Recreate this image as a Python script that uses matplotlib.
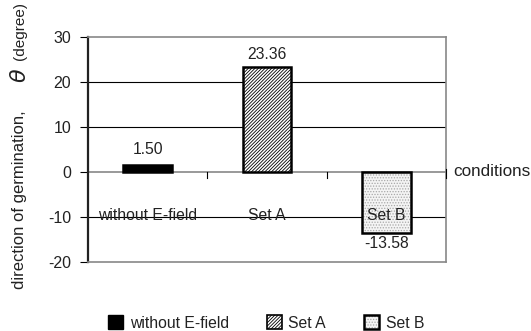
import matplotlib.pyplot as plt
import matplotlib.patches as mpatches

plt.rcParams['font.family'] = ['Liberation Sans', 'DejaVu Sans']
plt.rcParams['hatch.linewidth'] = 0.6

# данные
categories = ["without E-field", "Set A", "Set B"]
values = [1.50, 23.36, -13.58]
value_labels = ["1.50", "23.36", "-13.58"]
yticks = [-20, -10, 0, 10, 20, 30]

TXT = "#222222"
HATCH_A = "//////////"
HATCH_B = "......"
DOTS_B = "#a8a8a8"

fig = plt.figure(figsize=(5.31, 3.31), dpi=100)
ax = fig.add_axes([88 / 531, 1 - 262 / 331, (446 - 88) / 531, (262 - 37) / 331])

x = [0, 1, 2]
w = 0.41
# без поля — сплошной чёрный
ax.bar(x[0], values[0], width=w, color="black", edgecolor="black",
       linewidth=1.8, zorder=3)
# Set A — густая штриховка
ax.bar(x[1], values[1], width=w, color="white", edgecolor="black",
       linewidth=1.8, hatch=HATCH_A, zorder=3)
# Set B — светлые точки, потом рамка
ax.bar(x[2], values[2], width=w, color="#f4f4f4", edgecolor=DOTS_B,
       linewidth=0, hatch=HATCH_B, zorder=3)
ax.bar(x[2], values[2], width=w, color="none", edgecolor="black",
       linewidth=1.8, zorder=3)

ax.set_xlim(-0.5, 2.5)
ax.set_ylim(-20, 30)
ax.set_yticks(yticks)
ax.set_yticklabels([str(t) for t in yticks], fontsize=11.5, color=TXT)
ax.tick_params(axis="y", direction="out", length=6, width=0.8, pad=6)
ax.set_xticks([])

# сетка
for t in [-10, 10, 20]:
    ax.axhline(t, color="black", lw=0.8, zorder=1)
ax.axhline(0, color="#888888", lw=1.2, zorder=2)
for xb in [0.5, 1.5]:
    ax.plot([xb, xb], [0, -1.3], color="black", lw=0.8, zorder=2)
ax.plot([2.5, 2.5], [0.6, -1.3], color="black", lw=0.8, zorder=4,
        clip_on=False)

ax.spines["left"].set_linewidth(1.6)
ax.spines["left"].set_color(TXT)
for s in ["top", "right", "bottom"]:
    ax.spines[s].set_color("#888888")
    ax.spines[s].set_linewidth(1.2)

# подписи значений
offsets = [3.5, 2.7, -2.4]
for xi, v, lab, off in zip(x, values, value_labels, offsets):
    ax.text(xi, v + off, lab, ha="center", va="center", fontsize=11.3,
            color=TXT, zorder=4)

# подписи категорий на уровне -10
for xi, c in zip(x, categories):
    ax.text(xi, -9.7, c, ha="center", va="center", fontsize=11.3, color=TXT,
            zorder=4)

ax.text(2.56, 0, "conditions", ha="left", va="center", fontsize=12.3,
        color=TXT, clip_on=False)

# подпись оси Y
fig.text(20 / 531, 1 - 200 / 331, "direction of germination,", rotation=90,
         ha="center", va="center", fontsize=12, color=TXT)
fig.text(20 / 531, 1 - 75 / 331, r"$\theta$", rotation=90, ha="center",
         va="center", fontsize=16, color=TXT)
fig.text(20 / 531, 1 - 31 / 331, "(degree)", rotation=90, ha="center",
         va="center", fontsize=11, color=TXT)

# легенда
h0 = mpatches.Patch(facecolor="black", edgecolor="black", label=categories[0])
h1 = mpatches.Patch(facecolor="white", edgecolor="black", hatch=HATCH_A,
                    linewidth=1.2)
h2a = mpatches.Patch(facecolor="#f4f4f4", edgecolor=DOTS_B, hatch=HATCH_B,
                     linewidth=0)
h2b = mpatches.Patch(facecolor="none", edgecolor="black", linewidth=1.8)
fig.legend(handles=[h0, h1, (h2a, h2b)], labels=categories,
           loc="center", bbox_to_anchor=(266 / 531, 1 - 323 / 331),
           ncol=3, frameon=False, fontsize=11.3, handlelength=1.0,
           handleheight=1.0, handletextpad=0.4, columnspacing=2.4,
           labelcolor=TXT)

fig.savefig("out.png", dpi=100)
